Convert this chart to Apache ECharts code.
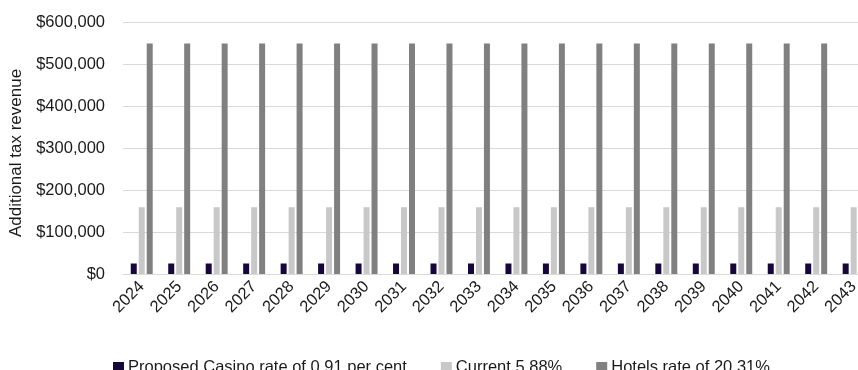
<!DOCTYPE html>
<html>
<head>
<meta charset="utf-8">
<script src="https://cdn.jsdelivr.net/npm/echarts@6/dist/echarts.min.js"></script>
<style>
  html, body { margin: 0; padding: 0; background: #fff; }
  #chart { width: 858px; height: 370px; }
</style>
</head>
<body>
<div id="chart"></div>
<script>
// Years shown on the category axis
const years = ['2024','2025','2026','2027','2028','2029','2030','2031','2032','2033',
               '2034','2035','2036','2037','2038','2039','2040','2041','2042','2043'];

// Additional tax revenue per year, by scenario
const casinoProposed = [25000,25000,25000,25000,25000,25000,25000,25000,25000,25000,
                        25000,25000,25000,25000,25000,25000,25000,25000,25000,25000];
const currentRate = [159000,159000,159000,159000,159000,159000,159000,159000,159000,159000,
                     159000,159000,159000,159000,159000,159000,159000,159000,159000,159000];
const hotelsRate = [549000,549000,549000,549000,549000,549000,549000,549000,549000,549000,
                    549000,549000,549000,549000,549000,549000,549000,549000,549000,549000];

const seriesNames = ['Proposed Casino rate of 0.91 per cent', 'Current 5.88%', 'Hotels rate of 20.31%'];
const yTicks = { min: 0, max: 600000, interval: 100000 };

const font = 'Liberation Sans, Arial, sans-serif';
const textColor = '#1a1a1a';

function money(v) {
  return '$' + String(v).replace(/\B(?=(\d{3})+(?!\d))/g, ',');
}

const chart = echarts.init(document.getElementById('chart'), null, { renderer: 'canvas' });

chart.setOption({
  animation: false,
  backgroundColor: '#ffffff',
  // the plot runs past the right edge of the canvas, so the last group is clipped
  grid: { left: 123, top: 22, width: 749.4, height: 252, outerBoundsMode: 'none' },
  legend: {
    left: 108,
    top: 354,
    itemWidth: 11,
    itemHeight: 11,
    itemGap: 34,
    icon: 'rect',
    textStyle: { fontFamily: font, fontSize: 16.5, color: textColor, padding: [0, 0, 0, -1] },
    data: seriesNames
  },
  xAxis: {
    type: 'category',
    data: years,
    axisLine: { show: true, lineStyle: { color: '#d9d9d9', width: 1 } },
    axisTick: { show: false },
    axisLabel: {
      rotate: 45,
      interval: 0,
      margin: 10,
      fontFamily: font,
      fontSize: 16.5,
      color: textColor
    }
  },
  yAxis: {
    type: 'value',
    min: yTicks.min,
    max: yTicks.max,
    interval: yTicks.interval,
    name: 'Additional tax revenue',
    nameLocation: 'middle',
    nameGap: 95,
    nameTextStyle: { fontFamily: font, fontSize: 17, color: textColor, padding: [0, 10, 0, 0] },
    axisLine: { show: false },
    axisTick: { show: false },
    splitLine: { lineStyle: { color: '#d9d9d9', width: 1 } },
    axisLabel: {
      margin: 18,
      fontFamily: font,
      fontSize: 16.5,
      color: textColor,
      formatter: money
    }
  },
  series: [
    { name: seriesNames[0], type: 'bar', data: casinoProposed, barWidth: 6, barGap: '33%',
      itemStyle: { color: '#16063a' } },
    { name: seriesNames[1], type: 'bar', data: currentRate, barWidth: 6, barGap: '33%',
      itemStyle: { color: '#c8c8c8' } },
    { name: seriesNames[2], type: 'bar', data: hotelsRate, barWidth: 6, barGap: '33%',
      itemStyle: { color: '#808080' } }
  ]
});
</script>
</body>
</html>
